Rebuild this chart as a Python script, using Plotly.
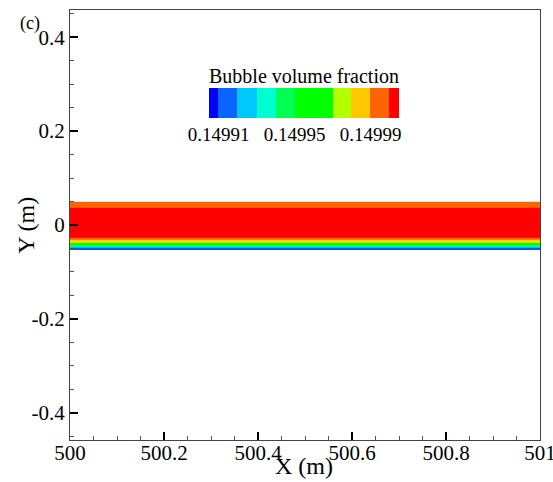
import plotly.graph_objects as go

# Horizontal layers of the bubble-rich band (y edges in metres, bottom to top)
layer_edges_y = [-0.0525, -0.0505, -0.0485, -0.0465, -0.0445, -0.0425,
                 -0.0375, -0.0345, -0.0315, -0.0275, 0.0365, 0.0495]
# Bubble volume fraction in each layer (bottom to top)
layer_fraction = [0.149907, 0.149915, 0.149925, 0.149935, 0.149945, 0.14996,
                  0.149975, 0.149985, 0.149995, 0.150002, 0.149995]
x_extent = [500.0, 501.0]

# Contour levels and flood colours of the legend
level_bounds = [0.149905, 0.14991, 0.14992, 0.14993, 0.14994, 0.14995,
                0.14997, 0.14998, 0.14999, 0.15000, 0.150005]
level_colors = ["#0000ff", "#0a64ff", "#00c8ff", "#00ffd0", "#00ff50",
                "#00ff00", "#b4ff00", "#ffc800", "#ff6400", "#ff0000"]
legend_ticks = [0.14991, 0.14995, 0.14999]
legend_ticktext = ["0.14991", "0.14995", "0.14999"]

x_ticks = [500, 500.2, 500.4, 500.6, 500.8, 501]
x_ticktext = ["500", "500.2", "500.4", "500.6", "500.8", "501"]
y_ticks = [-0.4, -0.2, 0, 0.2, 0.4]
y_ticktext = ["-0.4", "-0.2", "0", "0.2", "0.4"]

lo, hi = level_bounds[0], level_bounds[-1]
colorscale = []
for i, c in enumerate(level_colors):
    a = (level_bounds[i] - lo) / (hi - lo)
    b = (level_bounds[i + 1] - lo) / (hi - lo)
    colorscale.append([a, c])
    colorscale.append([b, c])

z = [[v, v] for v in layer_fraction]
x_edges = [x_extent[0], 500.5, x_extent[1]]

FONT = "Liberation Serif, Times New Roman, serif"

fig = go.Figure(go.Heatmap(
    x=x_edges, y=layer_edges_y, z=z,
    zmin=lo, zmax=hi, colorscale=colorscale, zsmooth=False,
    hoverinfo="skip",
    colorbar=dict(
        orientation="h", x=0.498, xanchor="center", y=0.8186, yanchor="top",
        len=190, lenmode="pixels", thickness=30, thicknessmode="pixels",
        xpad=0, ypad=0, outlinewidth=0, ticks="",
        tickvals=legend_ticks, ticktext=legend_ticktext,
        tickfont=dict(family=FONT, size=19, color="black"),
    ),
))

axis_common = dict(
    showgrid=False, zeroline=False, showline=True, linecolor="#444",
    linewidth=1.3, mirror=True, ticks="inside", ticklen=8, tickwidth=2,
    tickcolor="black", tickfont=dict(family=FONT, size=21, color="black"),
    ticklabeloverflow="allow", automargin=False,
)
fig.update_xaxes(range=[500, 501], tickvals=x_ticks,
                 ticktext=x_ticktext, ticklabelstandoff=-6,
                 minor=dict(ticks="inside", ticklen=4, dtick=0.05, tick0=500,
                            tickcolor="#555", tickwidth=1),
                 **axis_common)
fig.update_yaxes(range=[-0.458, 0.458], tickvals=y_ticks, ticktext=y_ticktext,
                 minor=dict(ticks="inside", ticklen=4, dtick=0.05, tick0=0,
                            tickcolor="#555", tickwidth=1),
                 **axis_common)

fig.update_layout(
    width=553, height=482, margin=dict(l=70, r=13, t=10, b=42),
    paper_bgcolor="white", plot_bgcolor="white", showlegend=False,
    annotations=[
        dict(text="Bubble volume fraction", xref="paper", yref="paper",
             x=0.498, y=0.8465, xanchor="center", yanchor="middle",
             showarrow=False, font=dict(family=FONT, size=20, color="black")),
        dict(text="X (m)", xref="paper", yref="paper", x=0.497, y=-0.0605,
             xanchor="center", yanchor="middle", showarrow=False,
             font=dict(family=FONT, size=24, color="black")),
        dict(text="Y (m)", xref="paper", yref="paper", x=-0.094, y=0.5,
             xanchor="center", yanchor="middle", textangle=-90, showarrow=False,
             font=dict(family=FONT, size=24, color="black")),
        dict(text="(c)", xref="paper", yref="paper", x=-0.111, y=1.0,
             xanchor="left", yanchor="middle", yshift=-13, showarrow=False,
             font=dict(family=FONT, size=18, color="black")),
    ],
)

fig.write_html("out.html")
